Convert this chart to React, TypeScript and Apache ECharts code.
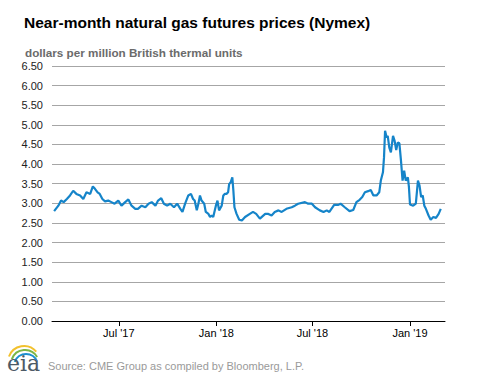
import React, { useEffect, useRef } from "react";
import * as echarts from "echarts";

const dates = [
  "2017-03-01", "2017-03-09", "2017-03-14", "2017-03-19", "2017-03-25", "2017-03-31", "2017-04-06",
  "2017-04-12", "2017-04-19", "2017-04-25", "2017-05-01", "2017-05-08", "2017-05-13", "2017-05-17",
  "2017-05-22", "2017-05-26", "2017-05-31", "2017-06-05", "2017-06-11", "2017-06-17", "2017-06-23",
  "2017-06-30", "2017-07-06", "2017-07-13", "2017-07-19", "2017-07-25", "2017-08-01", "2017-08-06",
  "2017-08-13", "2017-08-20", "2017-08-26", "2017-09-01", "2017-09-08", "2017-09-13", "2017-09-19",
  "2017-09-24", "2017-09-30", "2017-10-06", "2017-10-13", "2017-10-19", "2017-10-25", "2017-10-29",
  "2017-11-03", "2017-11-09", "2017-11-14", "2017-11-18",
  "2017-11-21", "2017-11-25", "2017-11-28", "2017-12-01", "2017-12-04", "2017-12-09", "2017-12-12",
  "2017-12-17", "2017-12-20", "2017-12-23", "2017-12-26", "2017-12-31", "2018-01-03", "2018-01-06",
  "2018-01-11", "2018-01-14", "2018-01-17", "2018-01-20", "2018-01-23", "2018-01-25", "2018-01-28",
  "2018-01-31", "2018-02-02", "2018-02-04", "2018-02-08", "2018-02-13", "2018-02-18", "2018-02-24",
  "2018-03-05", "2018-03-11", "2018-03-17", "2018-03-24", "2018-04-03", "2018-04-09", "2018-04-15",
  "2018-04-21", "2018-04-28", "2018-05-04", "2018-05-13", "2018-05-23", "2018-05-29", "2018-06-04",
  "2018-06-17", "2018-06-23", "2018-06-30", "2018-07-06", "2018-07-15", "2018-07-22", "2018-07-28",
  "2018-08-02", "2018-08-11", "2018-08-19", "2018-08-23", "2018-08-31", "2018-09-09", "2018-09-16",
  "2018-09-22", "2018-09-28", "2018-10-03", "2018-10-08", "2018-10-14", "2018-10-19", "2018-10-24",
  "2018-10-30", "2018-11-04", "2018-11-07", "2018-11-11", "2018-11-13", "2018-11-15", "2018-11-18",
  "2018-11-20", "2018-11-23", "2018-11-26", "2018-11-30", "2018-12-03", "2018-12-06", "2018-12-09",
  "2018-12-12", "2018-12-15", "2018-12-18", "2018-12-21", "2018-12-24", "2018-12-28", "2018-12-30",
  "2019-01-01", "2019-01-07", "2019-01-12", "2019-01-16", "2019-01-19", "2019-01-22", "2019-01-25",
  "2019-01-28", "2019-01-31", "2019-02-05", "2019-02-09", "2019-02-14", "2019-02-19", "2019-02-24",
  "2019-02-28",
];

const prices = [
  2.8, 2.94, 3.07, 3.03, 3.11, 3.2, 3.32,
  3.24, 3.2, 3.11, 3.28, 3.24, 3.43, 3.37,
  3.28, 3.24, 3.11, 3.05, 3.07, 3.03, 2.99,
  3.07, 2.94, 3.03, 3.1, 2.94, 2.86, 2.86,
  2.94, 2.9, 2.99, 3.03, 2.94, 3.07, 3.13,
  2.99, 2.94, 2.99, 2.9, 2.99, 2.86, 2.78,
  2.99, 3.2, 3.24, 3.11,
  3.07, 2.82, 2.99, 3.2, 3.07, 2.99, 2.78,
  2.73, 2.65, 2.69, 2.65, 2.94, 3.07, 2.82,
  2.94, 3.2, 3.24, 3.24, 3.28, 3.49, 3.54,
  3.66, 3.32, 2.9, 2.73, 2.58, 2.56, 2.65,
  2.73, 2.78, 2.73, 2.61, 2.73, 2.73, 2.69,
  2.78, 2.82, 2.78, 2.86, 2.9, 2.94, 2.99,
  3.03, 2.99, 2.99, 2.9, 2.82, 2.78, 2.82,
  2.78, 2.96, 2.96, 2.99, 2.9, 2.8, 2.83,
  3.03, 3.09, 3.16, 3.28, 3.31, 3.34, 3.2,
  3.2, 3.28, 3.58, 3.79, 4.17, 4.85, 4.68,
  4.72, 4.42, 4.3, 4.72, 4.59, 4.36, 4.55,
  4.53, 4.09, 3.58, 3.83, 3.58, 3.66, 3.41,
  2.97, 2.94, 2.99, 3.58, 3.45, 3.16, 3.2,
  2.94, 2.86, 2.69, 2.58, 2.65, 2.63, 2.73,
  2.86,
];

const xTickDates = ["2017-07-01", "2018-01-01", "2018-07-01", "2019-01-01"];
const xTickLabels = ["Jul '17", "Jan '18", "Jul '18", "Jan '19"];
const xRange = ["2017-02-25", "2019-03-08"];

const titleText = "Near-month natural gas futures prices (Nymex)";
const subtitleText = "dollars per million British thermal units";
const sourceText = "Source: CME Group as compiled by Bloomberg, L.P.";

const ts = (s: string) => new Date(s + "T00:00:00Z").getTime();

export default function App() {
  const ref = useRef<HTMLDivElement>(null);
  useEffect(() => {
    if (!ref.current) return;
    const chart = echarts.init(ref.current, undefined, { renderer: "svg" });
    const tickTs = xTickDates.map(ts);
    chart.setOption({
      animation: false,
      backgroundColor: "#ffffff",
      textStyle: { fontFamily: "Liberation Sans, Arial, sans-serif" },
      title: [
        {
          text: titleText,
          left: 19,
          top: 9,
          textStyle: { fontSize: 15.5, fontWeight: "bold", color: "#000000", fontFamily: "Liberation Sans, Arial, sans-serif" },
        },
        {
          text: subtitleText,
          left: 20,
          top: 41,
          textStyle: { fontSize: 11.7, fontWeight: "bold", color: "#6b6b6b", fontFamily: "Liberation Sans, Arial, sans-serif" },
        },
      ],
      grid: { left: 52, right: 32, top: 66, bottom: 58 },
      xAxis: {
        type: "value",
        min: ts(xRange[0]),
        max: ts(xRange[1]),
        axisLine: { show: true, onZero: false, lineStyle: { color: "#000000", width: 1 } },
        axisTick: {
          show: true,
          customValues: tickTs,
          length: 5,
          lineStyle: { color: "#000000" },
        },
        axisLabel: {
          customValues: tickTs,
          color: "#000000",
          fontSize: 11,
          margin: 6,
          formatter: (v: number) => {
            const i = tickTs.findIndex((t) => Math.abs(t - v) < 86400000);
            return i >= 0 ? xTickLabels[i] : "";
          },
        },
        splitLine: { show: false },
      },
      yAxis: {
        type: "value",
        min: 0,
        max: 6.5,
        interval: 0.5,
        axisLine: { show: false },
        axisTick: { show: false },
        axisLabel: {
          color: "#222222",
          fontSize: 11,
          margin: 9,
          formatter: (v: number) => v.toFixed(2),
        },
        splitLine: { lineStyle: { color: "#a6a6a6", width: 1 } },
      },
      series: [
        {
          type: "line",
          data: dates.map((d, i) => [ts(d), prices[i]]),
          showSymbol: false,
          lineStyle: { color: "#1584c9", width: 2.2 },
          itemStyle: { color: "#1584c9" },
        },
      ],
      graphic: [
        {
          type: "arc",
          shape: { cx: 24, cy: 362, r: 16, startAngle: (-160 * Math.PI) / 180, endAngle: (-40 * Math.PI) / 180 },
          style: { stroke: "#f2c12e", lineWidth: 2, fill: "none" },
        },
        {
          type: "arc",
          shape: { cx: 25, cy: 364, r: 14, startAngle: (-160 * Math.PI) / 180, endAngle: (-30 * Math.PI) / 180 },
          style: { stroke: "#7ab648", lineWidth: 2, fill: "none" },
        },
        {
          type: "arc",
          shape: { cx: 26, cy: 366, r: 12, startAngle: (-160 * Math.PI) / 180, endAngle: (-20 * Math.PI) / 180 },
          style: { stroke: "#1b8fd0", lineWidth: 2, fill: "none" },
        },
        {
          type: "text",
          left: 7,
          top: 352,
          style: { text: "eia", font: "22px 'DejaVu Serif', 'Liberation Serif', serif", fill: "#4d5a66" },
        },
        {
          type: "text",
          left: 48,
          top: 360,
          style: { text: sourceText, font: "11px 'Liberation Sans', Arial, sans-serif", fill: "#9a9a9a" },
        },
      ],
    });
    return () => chart.dispose();
  }, []);
  return <div ref={ref} style={{ width: 477, height: 379, position: "absolute", left: 0, top: 0 }} />;
}
